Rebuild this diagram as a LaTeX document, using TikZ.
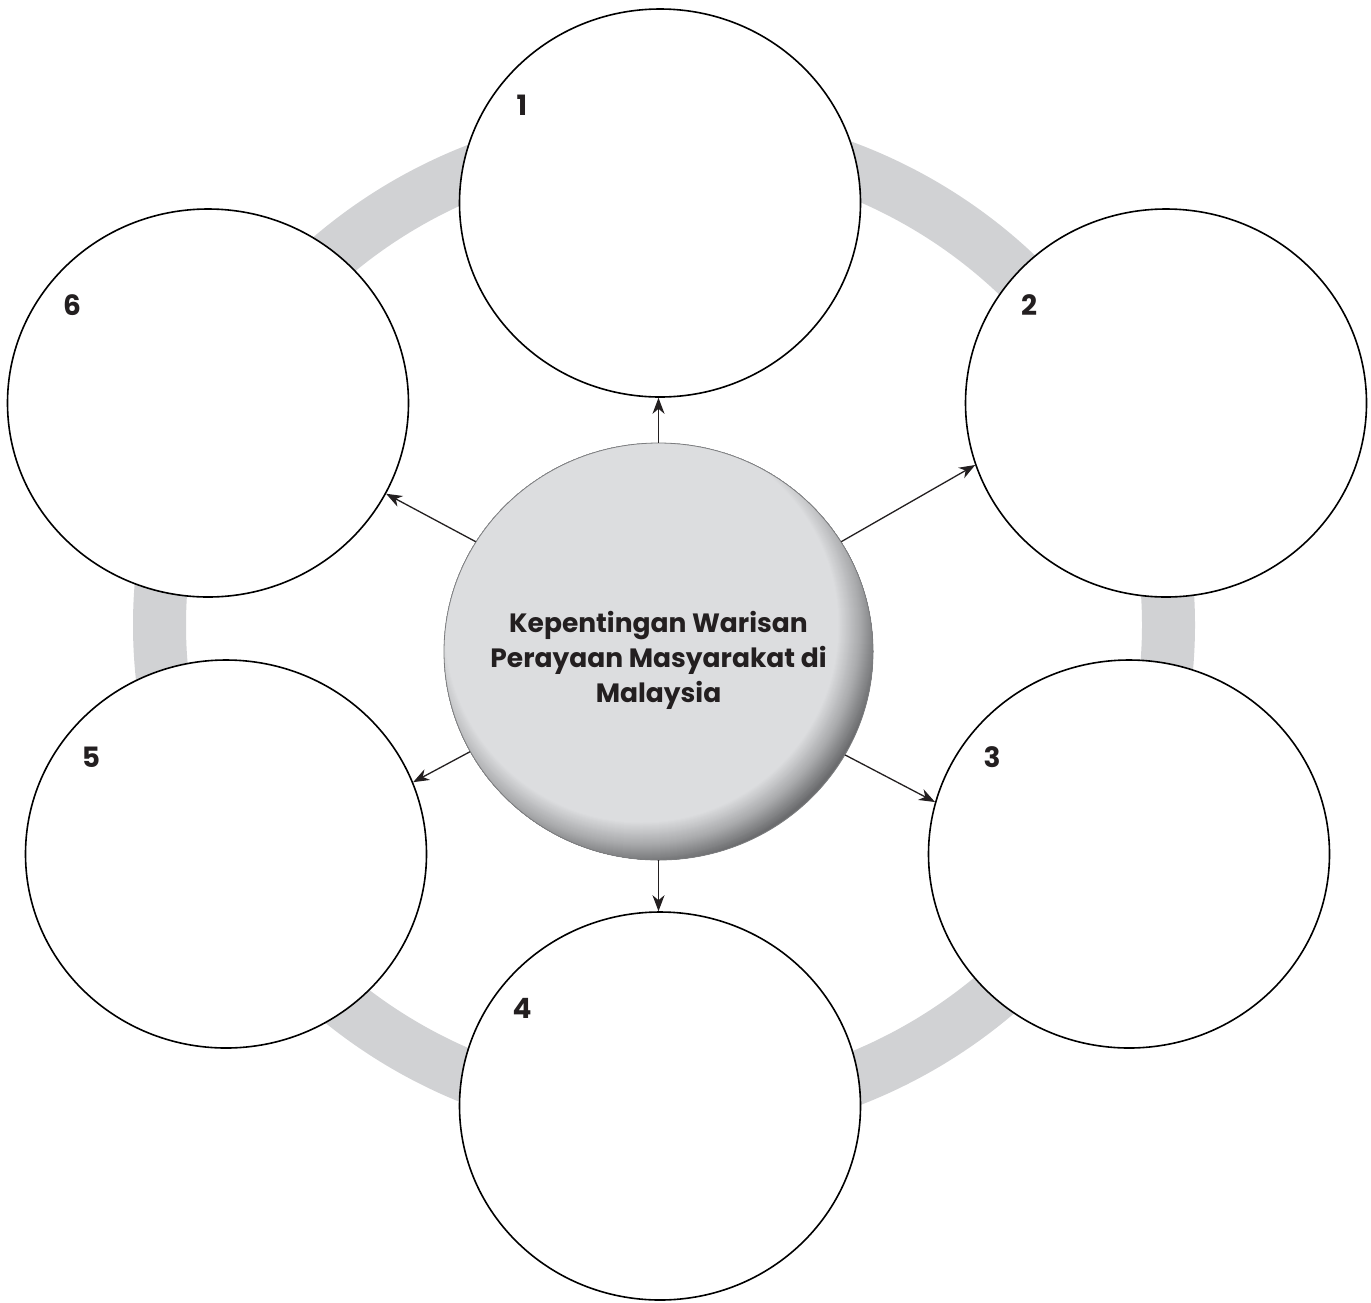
\documentclass[tikz,border=0pt]{standalone}
\usepackage{fontspec}
\setmainfont{Poppins}
\usetikzlibrary{arrows.meta,shapes.geometric}
\definecolor{ringgray}{HTML}{D1D2D4}
\definecolor{inkgray}{HTML}{231F20}
\definecolor{btnlight}{HTML}{DCDDDF}
\definecolor{btnmid}{HTML}{A9AAAC}
\definecolor{btndark}{HTML}{6B6C6E}
\definecolor{btnrim}{HTML}{7C7D7F}
\tikzset{
  outer/.style={ellipse, draw=black, line width=1.6pt, fill=white, inner sep=0pt,
    minimum width=401pt, minimum height=388pt},
  hub/.style={ellipse, draw=btnrim, line width=0.8pt, inner sep=0pt,
    minimum width=429pt, minimum height=417pt},
  numlabel/.style={font=\bfseries\fontsize{28}{30}\selectfont, text=inkgray, inner sep=0pt},
  hubtext/.style={font=\bfseries\fontsize{26.5}{35}\selectfont, text=inkgray, align=center},
  arr/.style={draw=inkgray, line width=1.3pt, -{Stealth[length=16pt,width=12pt,inset=5pt]}}
}
\begin{document}
\begin{tikzpicture}[x=1pt,y=-1pt]
\useasboundingbox (0,0) rectangle (1371,1302);
\fill[white] (0,0) rectangle (1371,1302);
% ring
\draw[ringgray, line width=53pt] (664,625) ellipse [x radius=504.5, y radius=490];
% outer circles
\node[outer] (n1) at (660,203) {};
\node[outer] (n2) at (1166,403) {};
\node[outer] (n3) at (1129,854) {};
\node[outer] (n4) at (660,1106) {};
\node[outer] (n5) at (226,854) {};
\node[outer] (n6) at (208,403) {};
% hub shading (stacked fills)
\begin{scope}
\clip (658.5,651.5) ellipse [x radius=214.5, y radius=208.5];
\fill[btndark] (641.5,625.5) circle [radius=300];
\foreach \r in {240,239,...,219} {
  \pgfmathtruncatemacro\p{100*(240-\r)/21}
  \fill[btnmid!\p!btndark] (641.5,625.5) circle [radius=\r];
}
\foreach \r in {218,217,...,197} {
  \pgfmathtruncatemacro\p{100*(219-\r)/22}
  \fill[btnlight!\p!btnmid] (641.5,625.5) circle [radius=\r];
}
\end{scope}
\node[hub] (c) at (658.5,651.5) {};
\node[hubtext] (ct) at (658.5,660) {Kepentingan Warisan\\Perayaan Masyarakat di\\Malaysia};
% labels
\node[numlabel] (l1) at ([shift={(-138,-98)}]n1.center) {1};
\node[numlabel] (l2) at ([shift={(-137,-98)}]n2.center) {2};
\node[numlabel] (l3) at ([shift={(-137,-97)}]n3.center) {3};
\node[numlabel] (l4) at ([shift={(-138,-98)}]n4.center) {4};
\node[numlabel] (l5) at ([shift={(-135,-97)}]n5.center) {5};
\node[numlabel] (l6) at ([shift={(-136,-98)}]n6.center) {6};
% arrows
\draw[arr] (c.north) -- (c.north |- n1.south);
\draw[arr] (c.south) -- (c.south |- n4.north);
\draw[arr] (c.31) -- (n2.198);
\draw[arr] (c.331) -- (n3.165);
\draw[arr] (c.208) -- (n5.21);
\draw[arr] (c.149) -- (n6.333);
\end{tikzpicture}
\end{document}
